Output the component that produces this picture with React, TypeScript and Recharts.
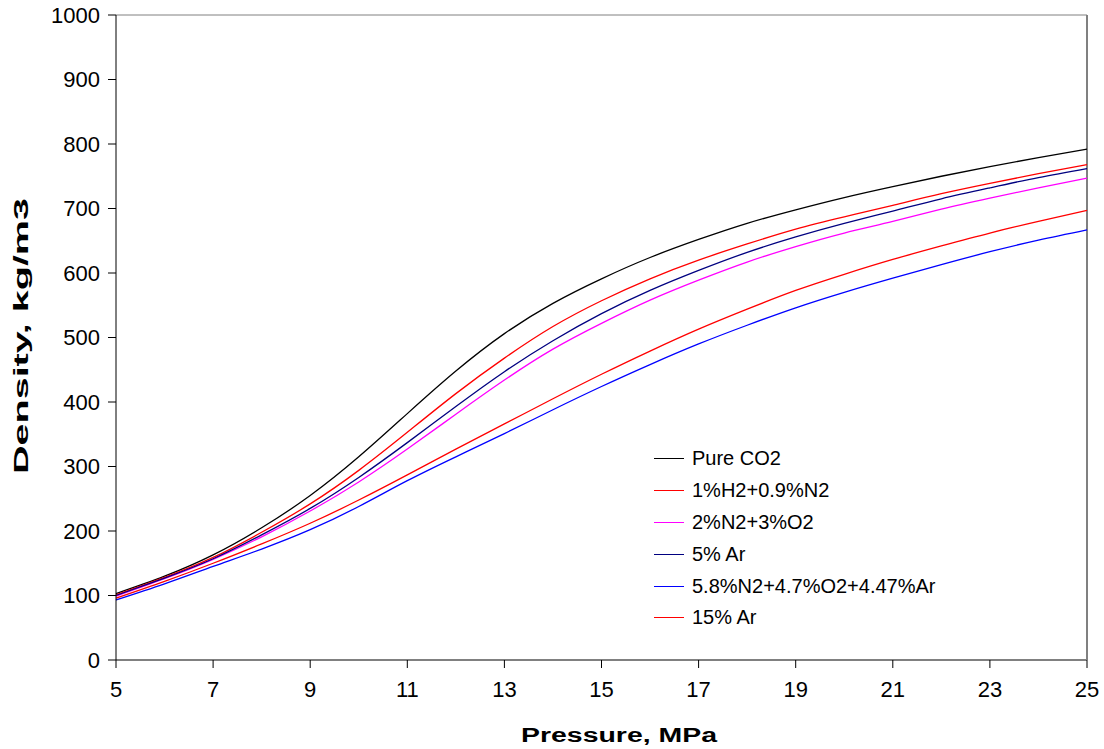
import React from 'react';
import { LineChart, Line, XAxis, YAxis, Legend, ReferenceLine, Label } from 'recharts';

const pressure = [5, 6, 7, 8, 9, 10, 11, 12, 13, 14, 15, 16, 17, 18, 19, 20, 21, 22, 23, 24, 25];
const pureCO2 = [103, 130, 163, 205, 255, 315, 382, 448, 506, 553, 591, 624, 652, 677, 698, 717, 734, 750, 765, 779, 792];
const h2n2 = [101, 128, 159, 198, 242, 294, 353, 413, 468, 517, 557, 591, 620, 645, 668, 687, 705, 723, 739, 754, 768];
const n2o2 = [99, 126, 156, 191, 231, 276, 327, 381, 434, 482, 522, 558, 589, 617, 641, 662, 680, 699, 716, 732, 747];
const ar5 = [100, 127, 157, 194, 235, 283, 337, 393, 447, 495, 537, 573, 604, 632, 656, 677, 696, 715, 732, 748, 762];
const mix = [93, 118, 145, 172, 202, 238, 278, 315, 351, 388, 424, 458, 490, 519, 546, 570, 592, 613, 633, 651, 667];
const ar15 = [96, 122, 150, 180, 212, 248, 287, 327, 366, 405, 443, 479, 513, 544, 573, 598, 621, 642, 662, 680, 697];

const xTicks = [5, 7, 9, 11, 13, 15, 17, 19, 21, 23, 25];
const yTicks = [0, 100, 200, 300, 400, 500, 600, 700, 800, 900, 1000];

const series = [
  { key: 'pure', name: 'Pure CO2', color: '#000000', values: pureCO2 },
  { key: 'h2n2', name: '1%H2+0.9%N2', color: '#ff0000', values: h2n2 },
  { key: 'n2o2', name: '2%N2+3%O2', color: '#ff00ff', values: n2o2 },
  { key: 'ar5', name: '5% Ar', color: '#000080', values: ar5 },
  { key: 'mix', name: '5.8%N2+4.7%O2+4.47%Ar', color: '#0000ff', values: mix },
  { key: 'ar15', name: '15% Ar', color: '#ff0000', values: ar15 },
];

const data = pressure.map((p, i) => {
  const row: Record<string, number> = { p };
  series.forEach((s) => {
    row[s.key] = s.values[i];
  });
  return row;
});

const font = 'Arial, "Liberation Sans", sans-serif';

const LegendContent = () => (
  <div style={{ fontFamily: font, fontSize: 20, color: '#000' }}>
    {series.map((s) => (
      <div key={s.key} style={{ display: 'flex', alignItems: 'center', height: 31.8 }}>
        <div style={{ width: 30, height: 0, borderTop: `1.5px solid ${s.color}`, marginRight: 8 }} />
        <span style={{ whiteSpace: 'nowrap' }}>{s.name}</span>
      </div>
    ))}
  </div>
);

const XTitle = () => (
  <text
    x={619}
    y={742}
    textAnchor="middle"
    fontFamily={font}
    fontSize={20}
    fontWeight="bold"
    fill="#000"
    textLength={196}
    lengthAdjust="spacingAndGlyphs"
  >
    Pressure, MPa
  </text>
);

const YTitle = () => (
  <text
    x={0}
    y={0}
    transform="translate(28, 336) rotate(-90)"
    textAnchor="middle"
    fontFamily={font}
    fontSize={20}
    fontWeight="bold"
    fill="#000"
    textLength={276}
    lengthAdjust="spacingAndGlyphs"
  >
    Density, kg/m3
  </text>
);

export default function App() {
  return (
    <div style={{ position: 'absolute', left: 0, top: 0, width: 1104, height: 749, background: '#fff' }}>
      <LineChart width={1104} height={749} data={data} margin={{ top: 15, right: 17, left: 56, bottom: 49 }}>
        <XAxis
          dataKey="p"
          type="number"
          domain={[5, 25]}
          ticks={xTicks}
          interval={0}
          height={40}
          axisLine={{ stroke: '#808080', strokeWidth: 2 }}
          tickLine={{ stroke: '#000' }}
          tickSize={8}
          tickMargin={13}
          tick={{ fill: '#000', fontSize: 22, fontFamily: font }}
        >
          <Label content={<XTitle />} />
        </XAxis>
        <YAxis
          type="number"
          domain={[0, 1000]}
          ticks={yTicks}
          interval={0}
          width={60}
          axisLine={{ stroke: '#000' }}
          tickLine={{ stroke: '#000' }}
          tickSize={8}
          tickMargin={8}
          tick={{ fill: '#000', fontSize: 22, fontFamily: font }}
        >
          <Label content={<YTitle />} />
        </YAxis>
        <ReferenceLine y={1000} stroke="#808080" strokeWidth={1} />
        <ReferenceLine x={25} stroke="#808080" strokeWidth={2} />
        {series.map((s) => (
          <Line
            key={s.key}
            dataKey={s.key}
            name={s.name}
            type="natural"
            stroke={s.color}
            strokeWidth={1.3}
            dot={false}
            isAnimationActive={false}
          />
        ))}
        <Legend
          layout="vertical"
          align="center"
          verticalAlign="middle"
          content={<LegendContent />}
          wrapperStyle={{ left: 654, top: 443, width: 330 }}
        />
      </LineChart>
    </div>
  );
}
